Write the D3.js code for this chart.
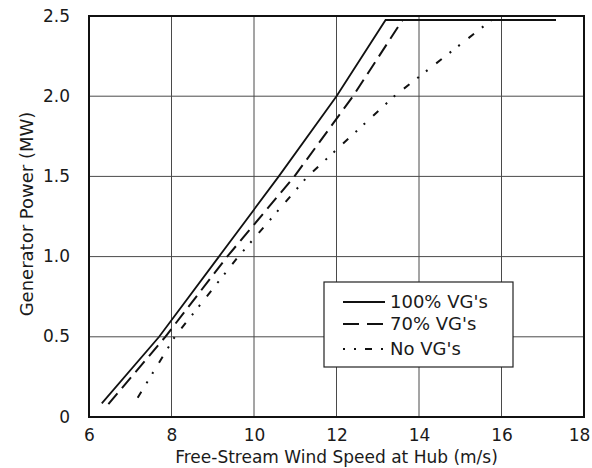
<!DOCTYPE html>
<html>
<head>
<meta charset="utf-8">
<script src="https://cdn.jsdelivr.net/npm/d3@7"></script>
<style>
  body { margin: 0; background: #fff; }
  text { font-family: "DejaVu Sans", sans-serif; fill: #1a1a1a; }
</style>
</head>
<body>
<div id="graf"></div>
<script>
// datos
const xTicks = [6, 8, 10, 12, 14, 16, 18];
const yTicks = [0, 0.5, 1.0, 1.5, 2.0, 2.5];
const yTickLabels = ["0", "0.5", "1.0", "1.5", "2.0", "2.5"];
const seriesNames = ["100% VG's", "70% VG's", "No VG's"];
const vg100 = [[6.31, 0.085], [7.7, 0.5], [9.15, 1.0], [10.6, 1.5], [12.0, 2.0], [13.19, 2.475], [17.32, 2.475]];
const vg70 = [[6.47, 0.08], [7.85, 0.5], [9.35, 1.0], [10.98, 1.5], [12.4, 2.0], [13.6, 2.475], [17.32, 2.475]];
const noVg = [[7.18, 0.12], [8.08, 0.5], [9.62, 1.0], [11.3, 1.5], [13.4, 2.0], [15.76, 2.475], [17.32, 2.475]];

const anchototal = 592, altototal = 468;
const margins = { left: 89, top: 16, right: 8, bottom: 51 };
const ancho = anchototal - margins.left - margins.right;
const alto = altototal - margins.top - margins.bottom;

const x = d3.scaleLinear().domain([6, 18]).range([0, ancho]);
const y = d3.scaleLinear().domain([0, 2.5]).range([alto, 0]);

const svg = d3.select("#graf").append("svg")
  .attr("width", anchototal).attr("height", altototal);
const g = svg.append("g").attr("transform", `translate(${margins.left},${margins.top})`);

// rejilla
g.selectAll("line.vx").data(xTicks).enter().append("line")
  .attr("x1", d => x(d)).attr("x2", d => x(d)).attr("y1", 0).attr("y2", alto)
  .attr("stroke", "#4a4a4a").attr("stroke-width", 1);
g.selectAll("line.hy").data(yTicks).enter().append("line")
  .attr("y1", d => y(d)).attr("y2", d => y(d)).attr("x1", 0).attr("x2", ancho)
  .attr("stroke", "#4a4a4a").attr("stroke-width", 1);

// ejes (solo etiquetas)
const xAxis = d3.axisBottom(x).tickValues(xTicks).tickSize(0).tickPadding(12).tickFormat(d3.format("d"));
const yAxis = d3.axisLeft(y).tickValues(yTicks).tickSize(0).tickPadding(19)
  .tickFormat((d, i) => yTickLabels[i]);
const gx = g.append("g").attr("transform", `translate(0,${alto})`).call(xAxis);
const gy = g.append("g").call(yAxis);
[gx, gy].forEach(a => {
  a.select(".domain").remove();
  a.selectAll("text").style("font-family", "DejaVu Sans").style("font-size", "17px").attr("fill", "#1a1a1a");
});
gy.selectAll("text").attr("dy", "0.3em");
// el ultimo rotulo (18) queda pegado al borde derecho
gx.selectAll("text").filter(d => d === 18).attr("dx", "-5");

// marco
g.append("rect").attr("x", 0).attr("y", 0).attr("width", ancho).attr("height", alto)
  .attr("fill", "none").attr("stroke", "#111").attr("stroke-width", 2);

// curvas
const linea = d3.line().x(d => x(d[0])).y(d => y(d[1]));
const estilos = [
  { data: vg100, dash: null, w: 1.8 },
  { data: vg70, dash: "14,7", w: 2 },
  { data: noVg, dash: "7,10,2,9,2,11", w: 2 }
];
g.selectAll("path.serie").data(estilos).enter().append("path")
  .attr("class", "serie")
  .attr("d", d => linea(d.data))
  .attr("fill", "none").attr("stroke", "#111")
  .attr("stroke-width", d => d.w)
  .attr("stroke-dasharray", d => d.dash);

// titulos
svg.append("text").attr("x", margins.left + ancho / 2).attr("y", 463)
  .attr("text-anchor", "middle").style("font-size", "17px")
  .text("Free-Stream Wind Speed at Hub (m/s)");
svg.append("text").attr("transform", "translate(33,214) rotate(-90)")
  .attr("text-anchor", "middle").style("font-size", "18px")
  .text("Generator Power (MW)");

// leyenda
const ley = svg.append("g").attr("transform", "translate(324,282)");
ley.append("rect").attr("width", 189).attr("height", 85)
  .attr("fill", "#fff").attr("stroke", "#222").attr("stroke-width", 1.2);
const filas = [20, 42, 67];
estilos.forEach((s, i) => {
  ley.append("line").attr("x1", 19).attr("x2", 61).attr("y1", filas[i]).attr("y2", filas[i])
    .attr("stroke", "#111").attr("stroke-width", s.w)
    .attr("stroke-dasharray", i === 1 ? "16,8" : (i === 2 ? "2,9,2,9,7,9,2" : null));
  ley.append("text").attr("x", 66).attr("y", filas[i]).attr("dy", "0.36em")
    .style("font-size", "18px").text(seriesNames[i]);
});
</script>
</body>
</html>
